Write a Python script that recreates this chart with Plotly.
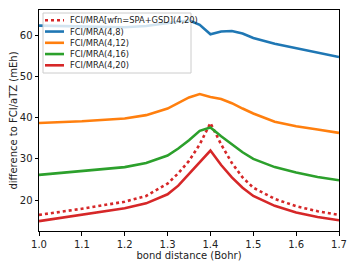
import plotly.graph_objects as go

bond = [1.0, 1.1, 1.2, 1.25, 1.3, 1.325, 1.35, 1.375, 1.4, 1.425, 1.45, 1.475, 1.5, 1.55, 1.6, 1.65, 1.7]

mra_spa_4_20 = [16.4, 17.9, 19.6, 21.0, 24.0, 26.5, 29.5, 33.5, 38.7, 33.5, 29.0, 25.5, 23.0, 20.3, 18.5, 17.3, 16.4]
mra_4_8 = [62.3, 62.1, 61.9, 62.2, 62.9, 63.3, 63.6, 62.5, 60.2, 60.9, 61.0, 60.4, 59.3, 57.9, 56.8, 55.8, 54.7]
mra_4_12 = [38.7, 39.1, 39.8, 40.6, 42.2, 43.5, 44.9, 45.7, 45.0, 44.5, 43.5, 42.2, 41.0, 39.0, 37.9, 37.1, 36.3]
mra_4_16 = [26.1, 27.0, 28.0, 29.0, 30.8, 32.5, 34.5, 36.8, 37.6, 35.5, 33.5, 31.6, 30.0, 28.0, 26.7, 25.6, 24.8]
mra_4_20 = [14.9, 16.4, 18.0, 19.2, 21.4, 23.5, 26.3, 29.0, 32.0, 28.5, 25.5, 23.0, 21.0, 18.6, 17.0, 15.9, 15.1]

series = [
    ("FCI/MRA[wfn=SPA+GSD](4,20)", mra_spa_4_20, "#d62728", "dot"),
    ("FCI/MRA(4,8)", mra_4_8, "#1f77b4", "solid"),
    ("FCI/MRA(4,12)", mra_4_12, "#ff7f0e", "solid"),
    ("FCI/MRA(4,16)", mra_4_16, "#2ca02c", "solid"),
    ("FCI/MRA(4,20)", mra_4_20, "#d62728", "solid"),
]

W, H = 357, 268
ML, MR, MT, MB = 39, 18, 10, 37
PW, PH = W - ML - MR, H - MT - MB

def px_x(p):
    return (p - ML) / PW

def px_y(p):
    return (H - MB - p) / PH

fig = go.Figure()
for name, vals, color, dash in series:
    fig.add_trace(go.Scatter(x=bond, y=vals, mode="lines", name=name,
                             line=dict(color=color, width=2.6, dash=dash),
                             showlegend=False, hoverinfo="skip"))

# legend drawn as a box with swatches and text
shapes = [dict(type="rect", xref="paper", yref="paper",
               x0=px_x(43), x1=px_x(191), y0=px_y(73), y1=px_y(13),
               fillcolor="rgba(255,255,255,0.8)", line=dict(color="#cccccc", width=1),
               layer="above")]
annotations = []
row0, step = 20.3, 11.25
for i, (name, vals, color, dash) in enumerate(series):
    yy = px_y(row0 + i * step)
    shapes.append(dict(type="line", xref="paper", yref="paper",
                       x0=px_x(45), x1=px_x(64), y0=yy, y1=yy,
                       line=dict(color=color, width=2.6, dash=dash), layer="above"))
    annotations.append(dict(xref="paper", yref="paper", x=px_x(68), y=yy,
                            xanchor="left", yanchor="middle", text=name, showarrow=False,
                            font=dict(size=8.3, color="#222")))

axis_common = dict(showline=True, linecolor="black", linewidth=1, mirror=True,
                   ticks="outside", ticklen=3.5, tickcolor="black", showgrid=False,
                   zeroline=False, automargin=False, tickfont=dict(size=10, color="#222"))

fig.update_layout(
    width=W, height=H,
    margin=dict(l=ML, r=MR, t=MT, b=MB),
    paper_bgcolor="white", plot_bgcolor="white",
    font=dict(family="DejaVu Sans", size=10, color="#222"),
    xaxis=dict(range=[1.0, 1.7], tickvals=[1.0, 1.1, 1.2, 1.3, 1.4, 1.5, 1.6, 1.7],
               ticktext=["1.0", "1.1", "1.2", "1.3", "1.4", "1.5", "1.6", "1.7"],
               title=dict(text="bond distance (Bohr)", font=dict(size=10), standoff=0),
               **axis_common),
    yaxis=dict(range=[12.5, 66.1], tickvals=[20, 30, 40, 50, 60],
               title=dict(text="difference to FCI/aTZ (mEh)", font=dict(size=10), standoff=0),
               **axis_common),
    shapes=shapes,
    annotations=annotations,
    showlegend=False,
    hovermode=False,
)

fig.write_html("out.html", config={"displayModeBar": False, "staticPlot": True},
               post_script="document.body.style.margin='0';document.body.style.overflow='hidden';")
